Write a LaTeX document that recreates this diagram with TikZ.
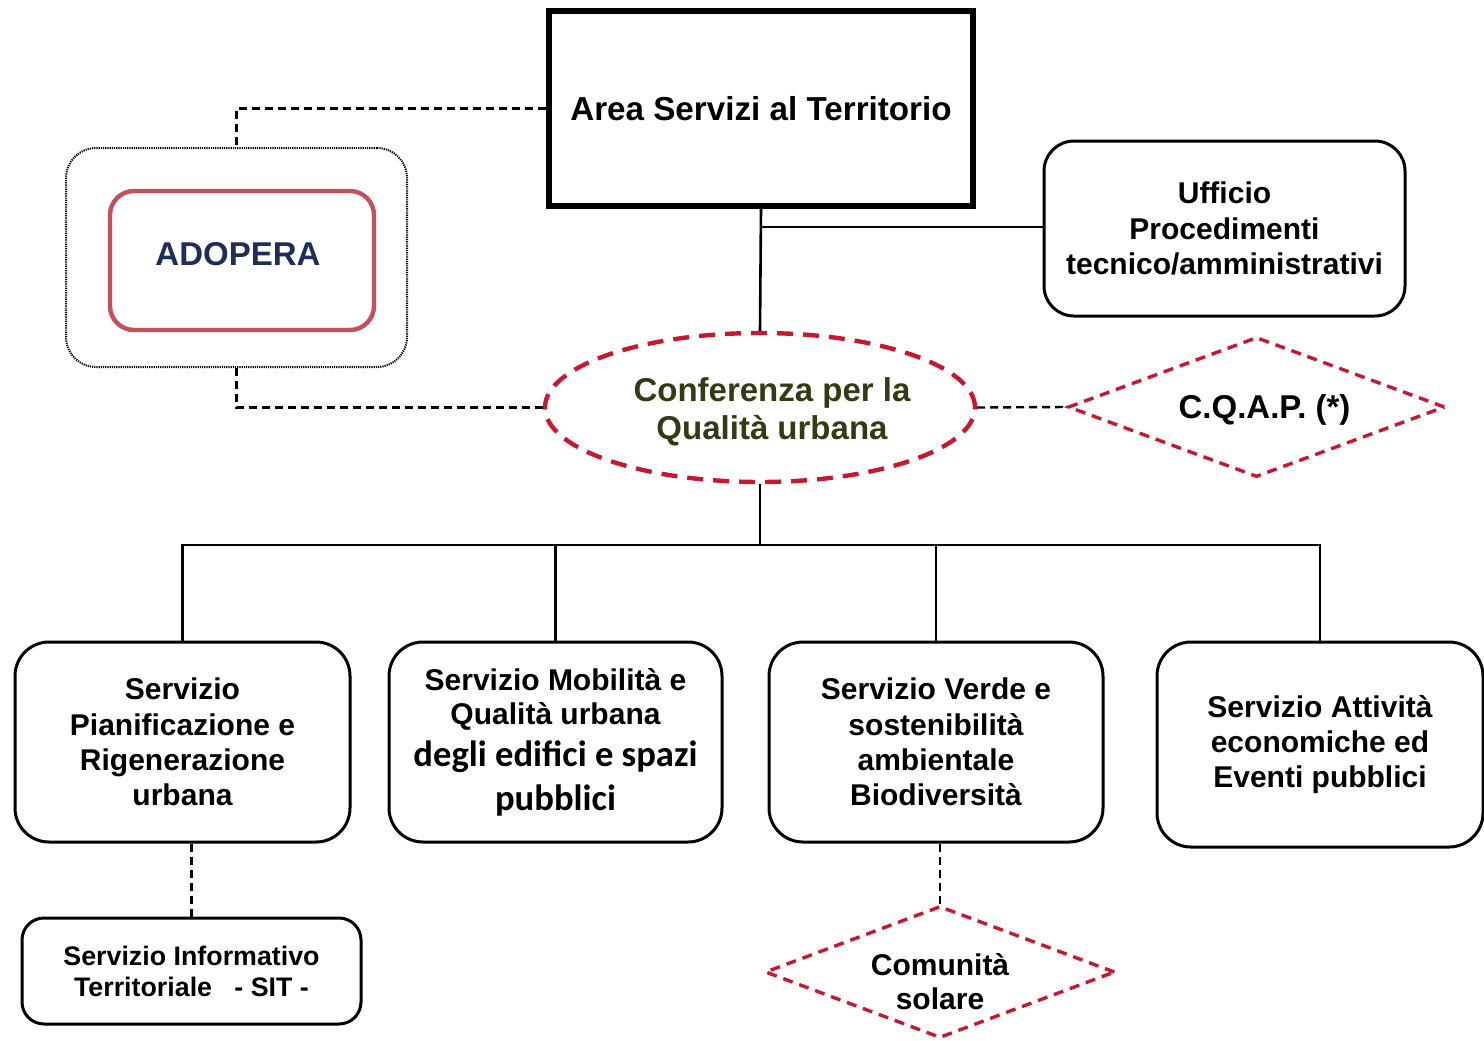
\documentclass[tikz,border=0pt]{standalone}
\usepackage{fontspec}
\setmainfont{Liberation Sans}
\newfontfamily\carlito{Carlito}
\usetikzlibrary{shapes.geometric}
\definecolor{dashred}{RGB}{200,24,48}
\definecolor{adored}{RGB}{195,80,90}
\definecolor{adonavy}{RGB}{30,45,90}
\definecolor{olivetxt}{RGB}{50,60,18}
\tikzset{
  boxbase/.style={draw, inner sep=0pt, align=center, line width=1.5pt},
  rbox/.style={boxbase, rounded corners=17pt, font=\bfseries\fontsize{15}{17.6}\selectfont},
  solidcon/.style={line width=1.3pt},
  blackdash/.style={line width=1.2pt, dash pattern=on 4pt off 2.5pt},
  reddiamond/.style={diamond, draw=dashred, line width=1.7pt, dash pattern=on 5pt off 3.5pt, inner sep=0pt},
  txtlabel/.style={align=center, inner sep=0pt},
}
\begin{document}
\begin{tikzpicture}[x=0.5pt,y=-0.5pt]
\useasboundingbox[fill=white] (0,0) rectangle (1484,1040);

% top box
\node[boxbase, line width=3pt, minimum width=212pt, minimum height=97.5pt,
      font=\bfseries\fontsize{16.6}{19}\selectfont] (area) at (761,108.5) {Area Servizi al Territorio};

% ufficio
\node[rbox, rounded corners=15pt, minimum width=180.5pt, minimum height=87.5pt] (uff) at (1224.5,228.5)
  {Ufficio\\Procedimenti\\tecnico/amministrativi};

% ADOPERA
\node[draw, line width=1pt, dash pattern=on 0.6pt off 0.5pt, rounded corners=15pt,
      minimum width=170.5pt, minimum height=109.5pt, inner sep=0pt] (adoOut) at (236.5,257.5) {};
\node[draw=adored, line width=2.2pt, rounded corners=12pt, minimum width=132pt, minimum height=69.5pt,
      inner sep=0pt,
      label={[txtlabel, yshift=3pt, xshift=-2pt, text=adonavy, font=\bfseries\fontsize{16.5}{19}\selectfont]center:ADOPERA}]
      (adoIn) at (242,260.5) {};

% Conferenza
\node[ellipse, draw=dashred, line width=2.2pt, dash pattern=on 8pt off 5pt, minimum width=215pt,
      minimum height=74.5pt, inner sep=0pt,
      label={[txtlabel, xshift=6pt, yshift=-2pt, text=olivetxt, font=\bfseries\fontsize{16.5}{19}\selectfont]center:{Conferenza per la\\Qualità urbana}}]
      (conf) at (760,407.5) {};

% CQAP
\node[reddiamond, minimum width=188.5pt, minimum height=70pt,
      label={[txtlabel, xshift=4pt, yshift=-1.5pt, font=\bfseries\fontsize{16.5}{19}\selectfont]center:C.Q.A.P. (*)}]
      (cqap) at (1256.5,407) {};

% bottom boxes
\node[rbox, minimum width=167.5pt, minimum height=100pt] (b1) at (182.5,742)
  {Servizio\\Pianificazione e\\Rigenerazione\\urbana};
\node[rbox, minimum width=166.5pt, minimum height=100pt, font=\bfseries\fontsize{15}{17}\selectfont] (b2) at (555.5,742)
  {Servizio Mobilità e\\Qualità urbana\\[4pt]{\carlito\bfseries\fontsize{18.3}{17}\selectfont degli edifici e spazi}\\[5pt]{\carlito\bfseries\fontsize{18.3}{17}\selectfont pubblici}};
\node[rbox, minimum width=167pt, minimum height=100pt] (b3) at (936,742)
  {Servizio Verde e\\sostenibilità\\ambientale\\Biodiversità};
\node[rbox, minimum width=163pt, minimum height=102.5pt] (b4) at (1320,744.5)
  {Servizio Attività\\economiche ed\\Eventi pubblici};

% SIT
\node[rbox, rounded corners=11pt, minimum width=169.5pt, minimum height=53pt,
      font=\bfseries\fontsize{13.4}{15.5}\selectfont] (sit) at (191.5,971)
  {Servizio Informativo\\Territoriale\ \ \ - SIT -};

% Comunita solare
\node[reddiamond, minimum width=175pt, minimum height=66pt,
      label={[txtlabel, yshift=-5pt, font=\bfseries\fontsize{15}{17}\selectfont]center:{Comunità\\solare}}]
      (com) at (940,972) {};

% connectors
\coordinate (j1) at (761,227);
\coordinate (bus) at (760,545);
\draw[solidcon] (area.south) -- (conf.north);
\draw[solidcon] (j1) -- (j1 -| uff.west);
\draw[blackdash] (area.west) -| (adoOut.north);
\draw[blackdash] (adoOut.south) |- (conf.west);
\draw[blackdash] (conf.east) -- (cqap.west);
\draw[solidcon] (conf.south) -- (bus);
\draw[solidcon] (b1.north) |- (bus) -| (b4.north);
\draw[solidcon] (b2.north) -- (b2.north |- bus);
\draw[solidcon] (b3.north) -- (b3.north |- bus);
\draw[blackdash] (sit.north |- b1.south) -- (sit.north);
\draw[blackdash] (com.north |- b3.south) -- (com.north);
\end{tikzpicture}
\end{document}
